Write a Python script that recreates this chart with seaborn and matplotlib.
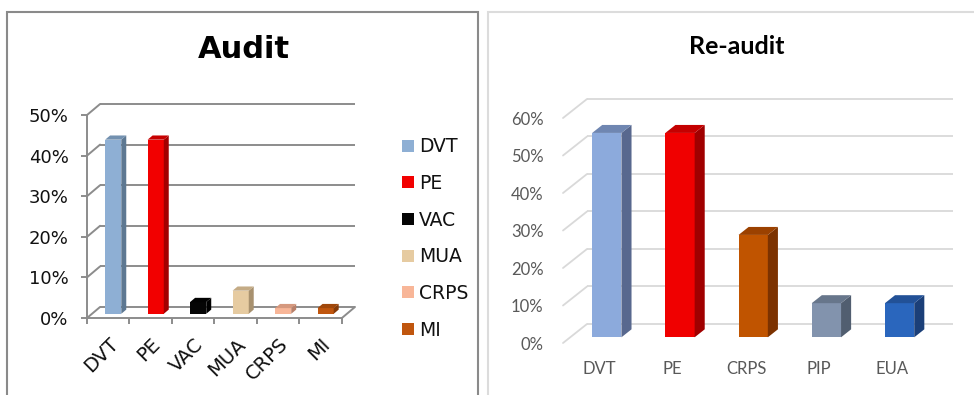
import numpy as np
import pandas as pd
import matplotlib
matplotlib.use("Agg")
import matplotlib.pyplot as plt
import seaborn as sns
from matplotlib.patches import Polygon, Rectangle, Patch
from matplotlib.colors import to_rgb

# ---- data -------------------------------------------------------------
audit_categories = ["DVT", "PE", "VAC", "MUA", "CRPS", "MI"]
audit_values = [42.9, 42.9, 2.9, 5.7, 1.4, 1.4]
audit_ticks = [0, 10, 20, 30, 40, 50]
audit_front = ["#8eafd4", "#f20000", "#050505", "#e6cba1", "#f8b698", "#c0560e"]
audit_side = ["#5d7892", "#a30000", "#000000", "#a8916f", "#b98069", "#863a07"]

reaudit_categories = ["DVT", "PE", "CRPS", "PIP", "EUA"]
reaudit_values = [54.5, 54.5, 27.3, 9.1, 9.1]
reaudit_ticks = [0, 10, 20, 30, 40, 50, 60]
reaudit_front = ["#8caadc", "#f00000", "#c05400", "#8293ad", "#2a66bd"]
reaudit_side = ["#58688e", "#a00000", "#7c3200", "#515e70", "#1b3f78"]

W, H = 974, 395


def fx(px):
    return px / W


def fy(py):
    return 1 - py / H


def blend(c1, c2, t):
    a, b = np.array(to_rgb(c1)), np.array(to_rgb(c2))
    return tuple(a * (1 - t) + b * t)


def extrude(ax, sides, dx, dy, f0, f1):
    """Turn flat bars into boxes: shift them into depth and add side/top faces."""
    bars = sorted(ax.patches, key=lambda p: p.get_x())
    ox, oy = f0 * dx, f0 * dy
    bx, by = (f1 - f0) * dx, (f1 - f0) * dy
    for p, sc in zip(bars, sides):
        x0, w, h = p.get_x() + ox, p.get_width(), p.get_height()
        p.set_x(x0)
        p.set_y(oy)
        p.set_zorder(3)
        front = p.get_facecolor()
        side = [(x0 + w, oy), (x0 + w + bx, oy + by),
                (x0 + w + bx, oy + h + by), (x0 + w, oy + h)]
        top = [(x0, oy + h), (x0 + bx, oy + h + by),
               (x0 + w + bx, oy + h + by), (x0 + w, oy + h)]
        ax.add_patch(Polygon(side, closed=True, facecolor=sc, edgecolor="none", zorder=3))
        ax.add_patch(Polygon(top, closed=True, facecolor=blend(front[:3], sc, 0.55),
                             edgecolor="none", zorder=3))


sns.set_theme(style="white")
plt.rcParams["font.family"] = ["DejaVu Sans"]

fig = plt.figure(figsize=(W / 100, H / 100), dpi=100)

# panel frames
fig.add_artist(Rectangle((fx(7), fy(420)), fx(478) - fx(7), fy(12) - fy(420),
                         transform=fig.transFigure, fill=False,
                         edgecolor="#8a8a8a", linewidth=1.5))
fig.add_artist(Rectangle((fx(488), fy(420)), fx(1100) - fx(488), fy(12) - fy(420),
                         transform=fig.transFigure, fill=False,
                         edgecolor="#dcdcdc", linewidth=1.5))

# ---- left panel: Audit ------------------------------------------------
gl = "#8c8c8c"
ax1 = fig.add_axes([fx(87), fy(318), fx(355) - fx(87), fy(104) - fy(318)])
df1 = pd.DataFrame({"cat": audit_categories, "val": audit_values})
sns.barplot(data=df1, x="cat", y="val", hue="cat", palette=audit_front,
            width=0.38, saturation=1, legend=False, linewidth=0, ax=ax1)
n1 = len(audit_categories)
dx1, dy1 = 0.308, 2.72
extrude(ax1, audit_side, dx1, dy1, 0.38, 0.76)
ax1.set_xlim(-0.5, n1 - 0.5 + dx1)
ax1.set_ylim(0, audit_ticks[-1] + dy1)
for v in audit_ticks:
    ax1.plot([-0.5 + dx1, n1 - 0.5 + dx1], [v + dy1, v + dy1], color=gl, lw=1.4,
             zorder=1, clip_on=False, solid_capstyle="butt")
    ax1.plot([-0.5, -0.5 + dx1], [v, v + dy1], color=gl, lw=1.4, zorder=1, clip_on=False)
ax1.plot([n1 - 0.5, n1 - 0.5 + dx1], [0, dy1], color=gl, lw=1.4, zorder=4, clip_on=False)
for s in ["top", "right"]:
    ax1.spines[s].set_visible(False)
for s in ["left", "bottom"]:
    ax1.spines[s].set_color(gl)
    ax1.spines[s].set_linewidth(1.4)
    ax1.spines[s].set_zorder(4)
ax1.spines["left"].set_bounds(0, audit_ticks[-1])
ax1.spines["bottom"].set_bounds(-0.5, n1 - 0.5)
ax1.set_yticks(audit_ticks, labels=[f"{t}%" for t in audit_ticks])
ax1.set_xticks(np.arange(-0.5, n1), labels=[""] * (n1 + 1))
ax1.set_xticks(range(n1), labels=audit_categories, minor=True)
ax1.tick_params(axis="y", left=True, length=4.3, width=1.4, color=gl, pad=9,
                labelsize=13, labelcolor="#111111")
ax1.tick_params(axis="x", which="major", bottom=True, length=4, width=1.4, color=gl)
ax1.tick_params(axis="x", which="minor", bottom=False, length=0, pad=12,
                labelsize=14, labelcolor="#111111")
for lab in ax1.get_xticklabels(minor=True):
    lab.set_rotation(45)
    lab.set_ha("right")
    lab.set_va("top")
    lab.set_rotation_mode("anchor")
ax1.set_xlabel("")
ax1.set_ylabel("")

fig.text(fx(244), fy(49), "Audit", ha="center", va="center",
         fontsize=22, fontweight="bold", color="#000000")

handles = [Patch(facecolor=c, edgecolor="none") for c in audit_front]
fig.legend(handles, audit_categories, loc="upper left",
           bbox_to_anchor=(fx(393), fy(128)), frameon=False,
           handlelength=0.6, handleheight=0.6, handletextpad=0.3,
           labelspacing=0.94, borderpad=0, fontsize=13.5,
           labelcolor="#111111")

# ---- right panel: Re-audit --------------------------------------------
gl2 = "#d9d9d9"
ax2 = fig.add_axes([fx(563), fy(343), fx(953) - fx(563), fy(99) - fy(343)])
df2 = pd.DataFrame({"cat": reaudit_categories, "val": reaudit_values})
sns.barplot(data=df2, x="cat", y="val", hue="cat", palette=reaudit_front,
            width=0.4, saturation=1, legend=False, linewidth=0, ax=ax2)
n2 = len(reaudit_categories)
dx2, dy2 = 0.328, 5.07
extrude(ax2, reaudit_side, dx2, dy2, 0.3, 0.72)
ax2.set_xlim(-0.5, n2 - 0.5 + dx2)
ax2.set_ylim(0, reaudit_ticks[-1] + dy2)
for v in reaudit_ticks:
    ax2.plot([-0.5 + dx2, n2 - 0.5 + dx2], [v + dy2, v + dy2], color=gl2, lw=1.3,
             zorder=1, clip_on=False, solid_capstyle="butt")
    ax2.plot([-0.5, -0.5 + dx2], [v, v + dy2], color=gl2, lw=1.3, zorder=1, clip_on=False)
for s in ax2.spines.values():
    s.set_visible(False)
ax2.set_yticks(reaudit_ticks, labels=[f"{t}%" for t in reaudit_ticks])
ax2.set_xticks(range(n2), labels=reaudit_categories)
ax2.tick_params(axis="y", left=False, length=0, pad=14, labelsize=12,
                labelcolor="#595959", labelfontfamily="Lato")
ax2.tick_params(axis="x", bottom=False, length=0, pad=13, labelsize=12,
                labelcolor="#595959", labelfontfamily="Lato")
ax2.set_xlabel("")
ax2.set_ylabel("")

fig.text(fx(737), fy(47), "Re-audit", ha="center", va="center",
         fontsize=18, fontweight="bold", color="#000000", family="Lato")

fig.savefig("out.png", dpi=100)
